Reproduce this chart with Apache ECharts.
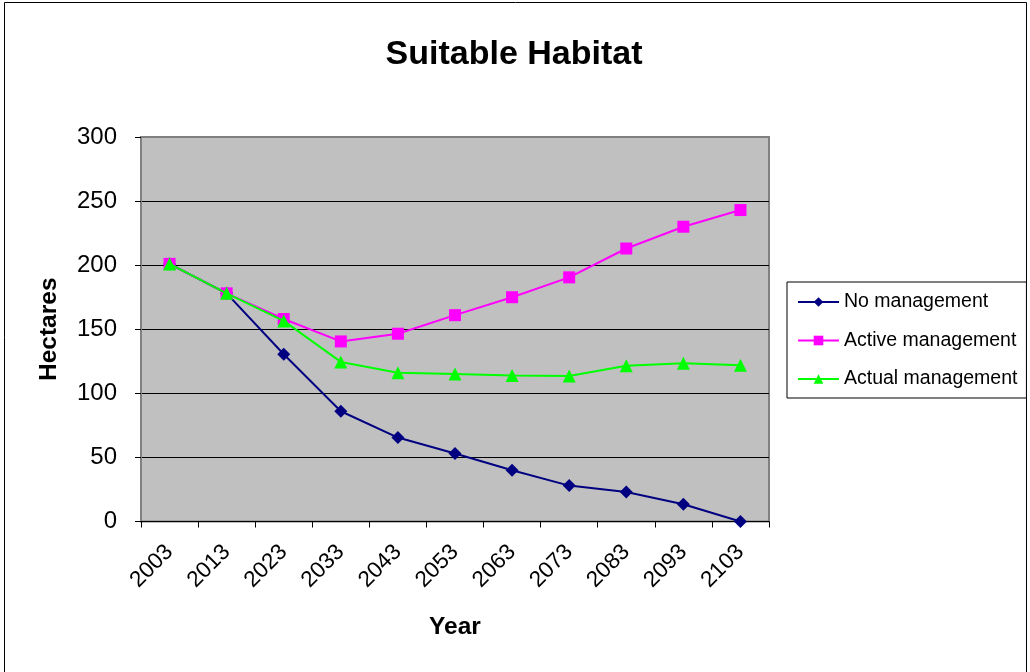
<!DOCTYPE html>
<html>
<head>
<meta charset="utf-8">
<script src="https://cdn.jsdelivr.net/npm/echarts@6/dist/echarts.min.js"></script>
<style>
  html, body { margin: 0; padding: 0; background: #fff; }
  #chart { width: 1030px; height: 672px; }
</style>
</head>
<body>
<div id="chart"></div>
<script>
// Years on the horizontal axis
const years = ['2003', '2013', '2023', '2033', '2043', '2053', '2063', '2073', '2083', '2093', '2103'];

// Suitable habitat (hectares) under each scenario
const noManagement     = [201, 178, 130.5, 86, 65.5, 53, 40, 28, 23, 13.5, 0];
const activeManagement = [201, 178, 158, 140.5, 146.5, 161, 175, 190.5, 213, 230, 243];
const actualManagement = [201, 178, 156.5, 124.5, 116, 115, 114, 113.5, 121.5, 123.5, 122];

// Value axis ticks
const yTicks = [0, 50, 100, 150, 200, 250, 300];

const FONT = '"Liberation Sans", Arial, sans-serif';

const chart = echarts.init(document.getElementById('chart'), null, { renderer: 'canvas' });

chart.setOption({
  animation: false,
  backgroundColor: '#ffffff',
  textStyle: { fontFamily: FONT },
  title: {
    text: 'Suitable Habitat',
    left: 509,
    top: 33,
    textAlign: 'center',
    textStyle: { fontFamily: FONT, fontSize: 34, fontWeight: 'bold', color: '#000' }
  },
  graphic: [{
    type: 'rect',
    shape: { x: 4.5, y: 2.5, width: 1022, height: 690 },
    style: { fill: 'none', stroke: '#000', lineWidth: 1 },
    silent: true,
    z: -1
  }],
  legend: {
    orient: 'vertical',
    left: 787,
    top: 282,
    padding: [10, 9, 9, 10],
    itemGap: 18.5,
    itemWidth: 41,
    itemHeight: 12,
    borderColor: '#000',
    borderWidth: 1,
    backgroundColor: '#fff',
    textStyle: { fontFamily: FONT, fontSize: 19.5, lineHeight: 20, color: '#000' },
    data: ['No management', 'Active management', 'Actual management']
  },
  grid: {
    left: 141,
    right: 261,
    top: 137,
    bottom: 150.5,
    show: true,
    backgroundColor: '#C0C0C0',
    borderColor: '#808080',
    borderWidth: 2
  },
  xAxis: {
    type: 'category',
    data: years,
    boundaryGap: true,
    name: 'Year',
    nameLocation: 'middle',
    nameGap: 93,
    nameTextStyle: { fontFamily: FONT, fontSize: 24.5, fontWeight: 'bold', color: '#000' },
    axisLine: { show: true, lineStyle: { color: '#000', width: 1 } },
    axisTick: { show: true, inside: false, length: 6, alignWithLabel: false, lineStyle: { color: '#000' } },
    axisLabel: {
      rotate: 45,
      margin: 27,
      fontFamily: FONT,
      fontSize: 22.5,
      color: '#000'
    },
    splitLine: { show: false }
  },
  yAxis: {
    type: 'value',
    min: 0,
    max: 300,
    interval: 50,
    name: 'Hectares',
    nameLocation: 'middle',
    nameGap: 79,
    nameRotate: 90,
    nameTextStyle: { fontFamily: FONT, fontSize: 24.5, fontWeight: 'bold', color: '#000' },
    axisLine: { show: true, lineStyle: { color: '#808080', width: 2 } },
    axisTick: { show: true, inside: false, length: 6, lineStyle: { color: '#000' } },
    axisLabel: {
      margin: 24,
      fontFamily: FONT,
      fontSize: 24,
      color: '#000',
      formatter: function (v) { return yTicks.indexOf(v) >= 0 ? String(v) : ''; }
    },
    splitLine: { show: true, showMinLine: false, showMaxLine: false, lineStyle: { color: '#000', width: 1 } }
  },
  series: [
    {
      name: 'No management',
      type: 'line',
      data: noManagement,
      symbol: 'diamond',
      symbolSize: 13,
      color: '#000080',
      lineStyle: { width: 2, color: '#000080' },
      itemStyle: { color: '#000080' },
      z: 3
    },
    {
      name: 'Active management',
      type: 'line',
      data: activeManagement,
      symbol: 'rect',
      symbolSize: 12,
      color: '#FF00FF',
      lineStyle: { width: 2, color: '#FF00FF' },
      itemStyle: { color: '#FF00FF' },
      z: 4
    },
    {
      name: 'Actual management',
      type: 'line',
      data: actualManagement,
      symbol: 'triangle',
      symbolSize: 13,
      color: '#00FF00',
      lineStyle: { width: 2, color: '#00FF00' },
      itemStyle: { color: '#00FF00' },
      z: 5
    }
  ]
});
</script>
</body>
</html>
